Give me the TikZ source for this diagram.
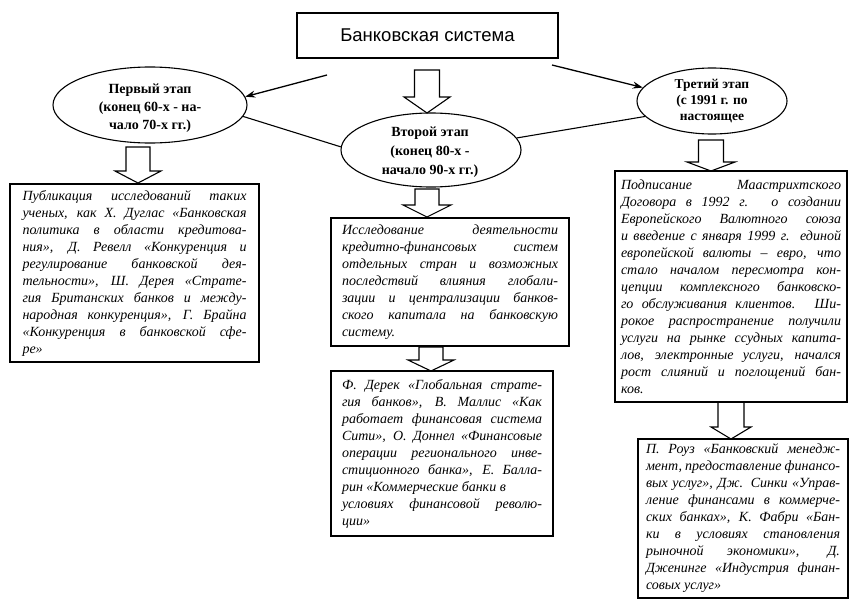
\documentclass[tikz,border=0pt]{standalone}
\usepackage{fontspec}
\setmainfont{Liberation Serif}
\newfontfamily\topfont{Liberation Sans}
\usetikzlibrary{shapes.geometric,arrows.meta}
\newcommand\jl[1]{\hbox to\linewidth{\spaceskip=0.25em plus 3em minus 0.05em #1}}
\newcommand\lastl[1]{\hbox{#1}}
\newcommand\hollowarrow[6]{%
  \draw[barrow] (#1-#5,#2) -- (#1+#5,#2) -- (#1+#5,#3) -- (#1+#6,#3) -- (#1,#4) -- (#1-#6,#3) -- (#1-#5,#3) -- cycle;}
\begin{document}
\begin{tikzpicture}[x=1pt,y=-1pt,
  box/.style={draw, line width=1.2pt, rectangle, inner sep=0pt,
    font=\fontsize{14}{17}\selectfont\itshape},
  ell/.style={draw, ellipse, line width=1.1pt, inner sep=0pt},
  etext/.style={align=center, font=\fontsize{14}{18}\selectfont\bfseries},
  thinarrow/.style={line width=1.3pt, -{Stealth[length=10pt,width=7pt]}},
  link/.style={line width=1.1pt},
  barrow/.style={draw, line width=1.1pt, fill=white, line join=miter}]
\useasboundingbox (0,0) rectangle (850,602);

% top box
\node[draw, line width=1.2pt, minimum width=261pt, minimum height=45pt, inner sep=0pt,
  font=\topfont\fontsize{18.5}{20}\selectfont] (T) at (427.5,35.5) {Банковская система};

% ellipses
\node[ell, minimum width=194pt, minimum height=76pt] (L) at (150,105) {};
\node[etext, font=\fontsize{14}{18}\selectfont\bfseries] (Lt) at (150,108) {Первый этап\\(конец 60-х - на-\\чало 70-х гг.)};
\node[ell, minimum width=180pt, minimum height=74pt] (M) at (431,150) {};
\node[etext, font=\fontsize{14}{19}\selectfont\bfseries] (Mt) at (430,152) {Второй этап\\(конец 80-х -\\начало 90-х гг.)};
\node[ell, minimum width=150pt, minimum height=66pt] (R) at (712,101) {};
\node[etext, font=\fontsize{13.5}{16}\selectfont\bfseries] (Rt) at (712,101) {Третий этап\\(с 1991 г. по\\настоящее};

% thin arrows and links
\coordinate (s1) at (327,75);
\coordinate (s2) at (552,65);
\draw[thinarrow] (s1) -- (L.5);
\draw[thinarrow] (s2) -- (R.169);
\draw[link] (L.-7) -- (M.178);
\draw[link] (M.8) -- (R.193);

% hollow block arrows: x, top, headbase, tip, half shaft, half head
\hollowarrow{427}{70}{97}{113}{12.5}{23}
\hollowarrow{138}{147}{171}{183}{12}{23}
\hollowarrow{427}{189}{205}{217}{12}{24}
\hollowarrow{711}{140}{162}{171}{12.5}{24}
\hollowarrow{431}{347}{360}{371}{12}{23}
\hollowarrow{731}{402}{427}{439}{13}{20}

% text boxes
\node[box, minimum width=249pt, minimum height=178pt] (B1) at (134.5,273) {\parbox{224pt}{%
\jl{Публикация исследований таких}
\jl{ученых, как Х. Дуглас «Банковская}
\jl{политика в области кредитова-}
\jl{ния», Д. Ревелл «Конкуренция и}
\jl{регулирование банковской дея-}
\jl{тельности», Ш. Дерея «Страте-}
\jl{гия Британских банков и между-}
\jl{народная конкуренция», Г. Брайна}
\jl{«Конкуренция в банковской сфе-}
\lastl{ре»}}};

\node[box, minimum width=238pt, minimum height=128pt] (B2) at (450,282) {\parbox{216pt}{%
\jl{Исследование деятельности}
\jl{кредитно-финансовых систем}
\jl{отдельных стран и возможных}
\jl{последствий влияния глобали-}
\jl{зации и централизации банков-}
\jl{ского капитала на банковскую}
\lastl{систему.}}};

\node[box, minimum width=222pt, minimum height=165pt] (B3) at (442,453.5) {\parbox{200pt}{%
\jl{Ф. Дерек «Глобальная страте-}
\jl{гия банков», В. Маллис «Как}
\jl{работает финансовая система}
\jl{Сити», О. Доннел «Финансовые}
\jl{операции регионального инве-}
\jl{стиционного банка», Е. Балла-}
\lastl{рин «Коммерческие банки в}
\jl{условиях финансовой револю-}
\lastl{ции»}}};

\node[box, minimum width=232pt, minimum height=231pt] (B4) at (731,286.5) {\parbox{220pt}{%
\jl{Подписание Маастрихтского}
\jl{Договора в 1992 г. о создании}
\jl{Европейского Валютного союза}
\jl{и введение с января 1999 г. единой}
\jl{европейской валюты – евро, что}
\jl{стало началом пересмотра кон-}
\jl{цепции комплексного банковско-}
\jl{го обслуживания клиентов. Ши-}
\jl{рокое распространение получили}
\jl{услуги на рынке ссудных капита-}
\jl{лов, электронные услуги, начался}
\jl{рост слияний и поглощений бан-}
\lastl{ков.}}};

\node[box, minimum width=210pt, minimum height=159pt] (B5) at (743,518.5) {\parbox{194pt}{%
\jl{П. Роуз «Банковский менедж-}
\jl{мент, предоставление финансо-}
\jl{вых услуг», Дж. Синки «Управ-}
\jl{ление финансами в коммерче-}
\jl{ских банках», К. Фабри «Бан-}
\jl{ки в условиях становления}
\jl{рыночной экономики», Д.}
\jl{Дженинге «Индустрия финан-}
\lastl{совых услуг»}}};
\end{tikzpicture}
\end{document}
